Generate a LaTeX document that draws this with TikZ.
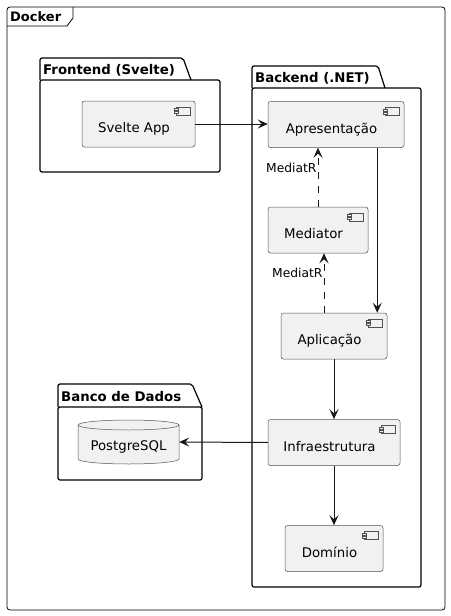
\documentclass[tikz,border=0pt]{standalone}
\usepackage{fontspec}
\setmainfont{DejaVu Sans}
\usetikzlibrary{arrows.meta}
\definecolor{compfill}{HTML}{F1F1F1}
\definecolor{compline}{HTML}{181818}
\tikzset{
  comp/.style={draw=compline!75, line width=0.5pt, fill=compfill, rounded corners=2.5pt,
    inner sep=0pt, minimum height=46pt, font=\fontsize{13.3pt}{16pt}\selectfont,
    text height=17.5pt, text depth=0pt, execute at end node={\hspace*{9pt}}},
  pkg/.style={draw=black, line width=1.2pt, fill=white, rounded corners=2pt},
  pkgtitle/.style={font=\bfseries\fontsize{13.3pt}{16pt}\selectfont, anchor=base west, inner sep=0pt},
  arr/.style={draw=compline, line width=1pt, -{Stealth[length=10pt,width=9pt,inset=4pt]}},
  dsh/.style={arr, dash pattern=on 7pt off 7pt},
  lbl/.style={font=\fontsize{12.3pt}{15pt}\selectfont, inner sep=1pt, anchor=east, fill=white, text=black}
}
\newcommand{\compicon}[1]{%
  \draw[compline!75, line width=0.5pt, fill=compfill]
    ([xshift=-19pt,yshift=-6pt]#1.north east) rectangle ([xshift=-5pt,yshift=-14pt]#1.north east);
  \draw[compline!75, line width=0.5pt, fill=compfill]
    ([xshift=-21pt,yshift=-7.5pt]#1.north east) rectangle ([xshift=-17pt,yshift=-9.5pt]#1.north east);
  \draw[compline!75, line width=0.5pt, fill=compfill]
    ([xshift=-21pt,yshift=-10.5pt]#1.north east) rectangle ([xshift=-17pt,yshift=-12.5pt]#1.north east);
}
\begin{document}
\begin{tikzpicture}[x=1pt,y=-1pt]
\useasboundingbox[fill=white] (0,0) rectangle (450,616);
% Docker frame
\draw[line width=0.8pt, rounded corners=3pt] (7,7) -- (7,610) -- (445,610) -- (445,7) -- cycle;
\draw[line width=0.8pt] (7,26) -- (67,26) -- (73,18) -- (73,7);
\node[pkgtitle, font=\bfseries\fontsize{13pt}{16pt}\selectfont] (dockert) at (10,21) {Docker};
% Frontend package
\draw[pkg] (40,80) -- (40,58) -- (183,58) -- (191,80);
\draw[pkg] (40,80) rectangle (220,172);
\node[pkgtitle] (frontt) at (43,74) {Frontend (Svelte)};
% Backend package
\draw[pkg] (252,88) -- (252,66) -- (378,66) -- (385,88);
\draw[pkg] (252,88) rectangle (421,587);
\node[pkgtitle] (backt) at (255,82) {Backend (.NET)};
% Banco package
\draw[pkg] (58,407) -- (58,384) -- (192,384) -- (202,407);
\draw[pkg] (58,407) rectangle (202,480);
\node[pkgtitle] (bancot) at (61,401) {Banco de Dados};
% components
\node[comp, minimum width=113pt] (svelte) at (138.5,124) {Svelte App};
\node[comp, minimum width=136pt] (apres) at (336,124.5) {Apresentação};
\node[comp, minimum width=100pt] (med) at (318,230) {Mediator};
\node[comp, minimum width=106pt] (apl) at (334,336) {Aplicação};
\node[comp, minimum width=132pt] (infra) at (334,442.5) {Infraestrutura};
\node[comp, minimum width=98pt] (dom) at (334,548.5) {Domínio};
\foreach \n in {svelte,apres,med,apl,infra,dom} {\compicon{\n}}
% PostgreSQL cylinder
\draw[compline!75, line width=0.5pt, fill=compfill]
  (78,425) -- (78,459) arc[start angle=180, end angle=360, x radius=50.5, y radius=-5] -- (179,425)
  arc[start angle=0, end angle=180, x radius=50.5, y radius=-5] -- cycle;
\draw[compline!75, line width=0.5pt]
  (78,425) arc[start angle=180, end angle=360, x radius=50.5, y radius=-5];
\node[inner sep=0pt, minimum width=101pt, minimum height=44pt, font=\fontsize{13.3pt}{16pt}\selectfont,
  text height=17.5pt, text depth=0pt] (pg) at (128.5,442) {PostgreSQL};
% connectors
\draw[arr] (svelte.east |- 0,124) -- (apres.west |- 0,124);
\draw[arr] ([xshift=-27pt]apres.south east) -- ([xshift=-27pt]apres.south east |- apl.north);
\draw[dsh] (med.north) -- node[lbl, pos=0.65] {MediatR} (med.north |- apres.south);
\draw[dsh] ([xshift=-10pt]apl.north) -- node[lbl, pos=0.67] {MediatR} ([xshift=-10pt]apl.north |- med.south);
\draw[arr] (apl.south) -- (infra.north);
\draw[arr] (infra.south) -- (dom.north);
\draw[arr] (infra.west) -- (pg.east);
\end{tikzpicture}
\end{document}
